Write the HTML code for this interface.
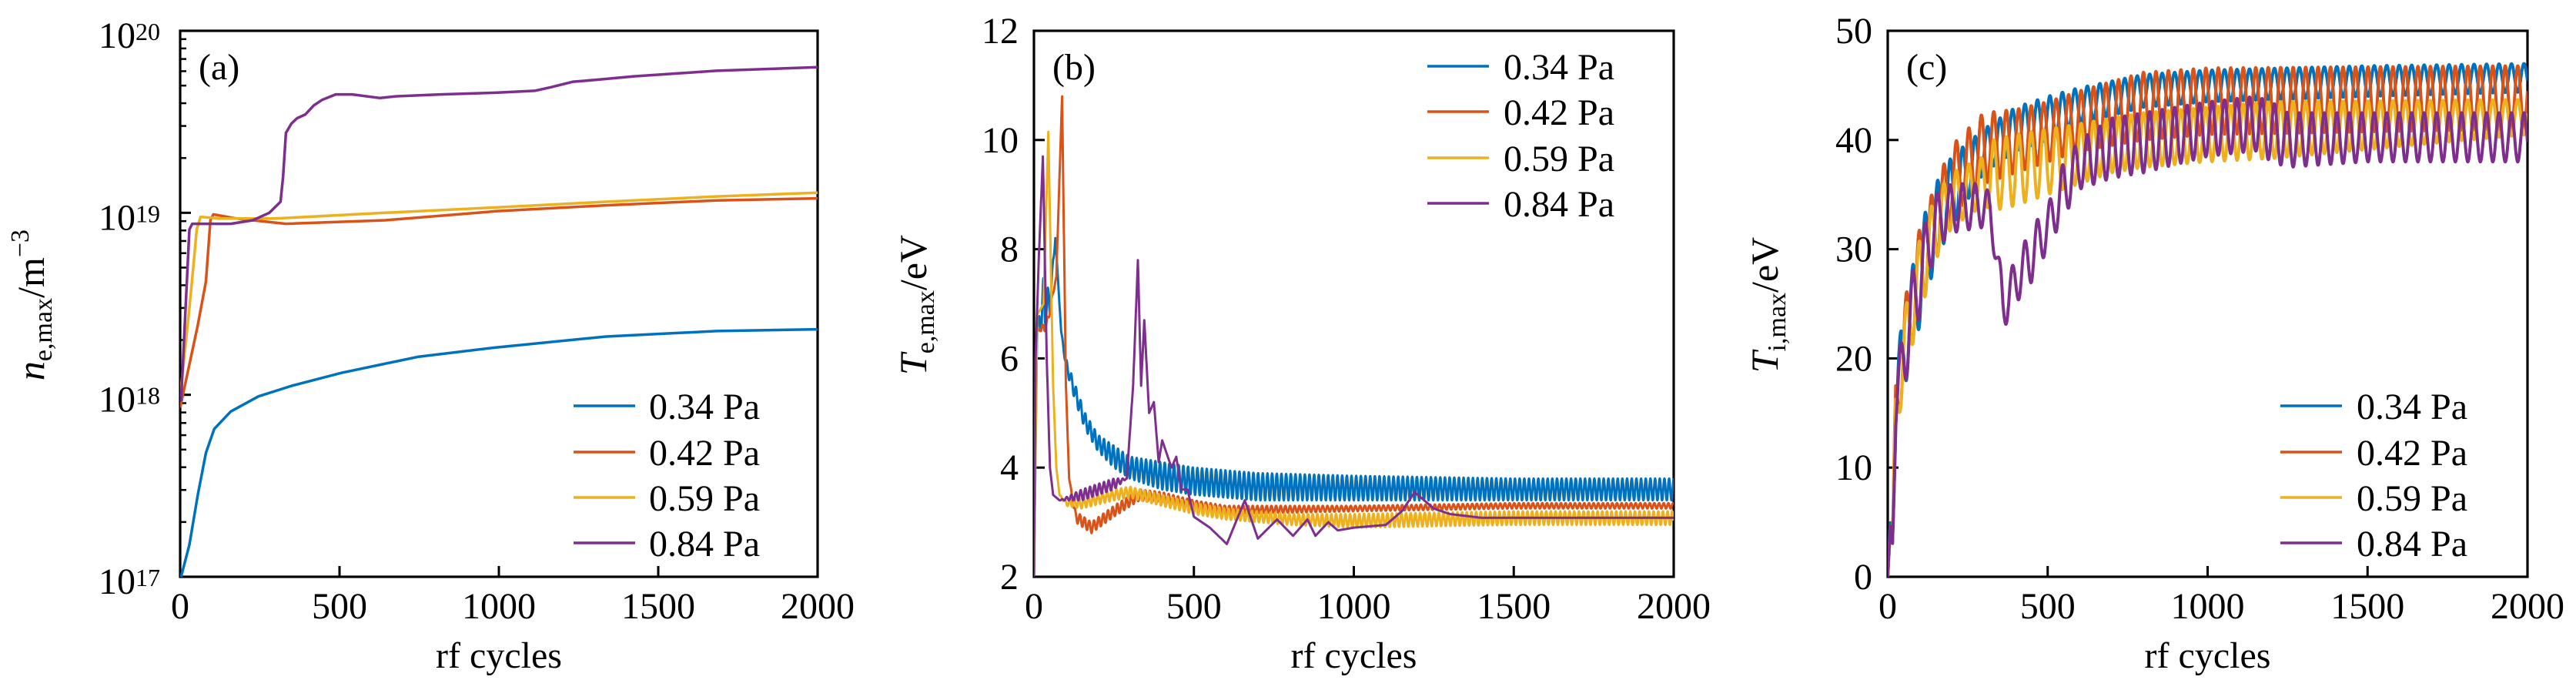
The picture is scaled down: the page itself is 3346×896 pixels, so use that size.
<!DOCTYPE html>
<html><head><meta charset="utf-8"><style>
html,body{margin:0;padding:0;background:#fff;}
svg{display:block;font-family:"Liberation Serif",serif;}
</style></head><body>
<svg id="fig" width="3346" height="896" viewBox="0 0 3346 896" xmlns="http://www.w3.org/2000/svg"></svg>
<script>
// ---------- Panel (a): n_e,max (units of 1e18 m^-3) ----------
const neBlueX  =[0,3,29,55,81,107,159,246,350,506,748,990,1337,1683,2000];
const neBlueY  =[0.10,0.10,0.15,0.28,0.48,0.65,0.81,0.98,1.12,1.32,1.62,1.82,2.09,2.24,2.29];
const neOrangeX=[0,55,81,95,104,177,332,644,990,1337,1683,2000];
const neOrangeY=[0.85,2.4,4.2,9.1,9.8,9.3,8.7,9.1,10.2,11.0,11.7,12.0];
const neYellowX=[0,29,42,52,64,125,298,644,990,1337,1683,2000];
const neYellowY=[0.98,3.0,5.2,8.1,9.5,9.3,9.3,10.0,10.7,11.5,12.3,12.9];
const nePurpleX=[0,3,29,38,73,159,228,280,315,323,332,349,367,393,419,445,488,540,627,679,817,990,1112,1164,1233,1302,1424,1683,2000];
const nePurpleY=[0.93,0.93,8.1,8.7,8.7,8.7,9.1,10.0,11.5,15.8,27.5,30.9,33.1,34.7,38.9,41.7,44.7,44.7,42.7,43.7,44.7,45.7,46.8,49.0,52.5,53.7,56.2,60.3,63.1];

// ---------- Panel (b): T_e,max envelopes (eV) ----------
const teBlueX  =[0,10,30,50,67,85,100,130,160,200,250,300,400,500,700,1000,1500,2000];
const teBlueLo =[2,6.5,6.5,6.8,8.2,6.5,5.8,5.2,4.7,4.3,4.0,3.8,3.6,3.5,3.4,3.4,3.4,3.4];
const teBlueHi =[2,6.5,7.5,7.2,8.25,6.5,6.0,5.5,5.0,4.6,4.4,4.2,4.1,4.0,3.9,3.85,3.8,3.8];
const teOrangeX =[0,8,40,70,88,100,110,130,180,250,330,400,500,600,1000,1500,2000];
const teOrangeLo=[2,6.5,6.5,7.5,10.8,5.5,3.8,3.0,2.8,3.1,3.4,3.35,3.25,3.15,3.2,3.25,3.25];
const teOrangeHi=[2,6.5,6.7,7.5,10.8,5.5,3.8,3.2,3.0,3.3,3.6,3.55,3.4,3.3,3.3,3.35,3.35];
const teYellowX =[0,10,30,45,60,70,80,100,150,250,300,400,500,600,800,1000,1500,2000];
const teYellowLo=[2,6.8,7.0,10.15,5.5,4.0,3.5,3.3,3.25,3.4,3.45,3.3,3.15,3.05,2.95,2.9,2.95,2.95];
const teYellowHi=[2,6.8,7.0,10.15,5.5,4.0,3.5,3.4,3.45,3.6,3.65,3.5,3.35,3.25,3.15,3.15,3.2,3.2];
const tePurpleX =[0,5,15,28,40,50,60,80,150,250,290,310,325,335,345,360,375,390,401,430,445,460,480,500,550,603,659,700,760,810,855,880,920,950,1000,1100,1150,1190,1250,1300,1400,2000];
const tePurpleLo=[2,6.0,7.8,9.7,6.0,4.0,3.5,3.4,3.4,3.6,3.8,5.5,7.8,5.5,6.7,5.0,5.2,4.1,4.5,4.0,4.2,3.6,3.6,3.1,2.9,2.6,3.4,2.7,3.05,2.75,3.05,2.75,3.0,2.85,2.9,2.95,3.2,3.55,3.25,3.15,3.08,3.08];
const tePurpleHi=[2,6.0,7.8,9.7,6.0,4.0,3.5,3.4,3.6,3.8,3.8,5.5,7.8,5.5,6.7,5.0,5.2,4.1,4.5,4.0,4.2,3.6,3.6,3.1,2.9,2.6,3.4,2.7,3.05,2.75,3.05,2.75,3.0,2.85,2.9,2.95,3.2,3.55,3.25,3.15,3.08,3.08];

// ---------- Panel (c): T_i,max envelopes (eV) ----------
const tiBlueX  =[0,8,15,25,50,75,100,150,200,300,400,500,600,800,1000,1500,2000];
const tiBlueLo =[0,4,3,13,17,20,23,29,32,37,39,40,41.5,43,43.5,44,44.4];
const tiBlueHi =[0,5.5,3.5,18.5,25,28,32,36,38.5,41,43,44,44.8,46,46.4,46.8,47];
const tiOrangeX =[0,8,15,25,50,75,100,150,200,300,400,500,600,800,1000,2000];
const tiOrangeLo=[0,4,3,13,17,21,24,29,33,36,37,38,39,40,40.5,41];
const tiOrangeHi=[0,5.5,3.5,18.5,25,28,32,36,39.5,42.5,42.8,43.5,44.5,46.2,46.6,46.8];
const tiYellowX =[0,8,15,25,50,75,100,150,200,300,330,400,500,600,700,800,1000,1200,2000];
const tiYellowLo=[0,4,3,13,17,21,24,29,32,34,33.5,34,35,36,37,37.5,38,38.3,40.5];
const tiYellowHi=[0,5,3.5,17,24,27,31,35,37,38.5,40,40.5,41,41.5,42,42.5,43,43.5,43.7];
const tiPurpleX =[0,8,15,25,50,100,150,200,300,320,340,360,400,450,500,550,600,700,800,1000,1150,1200,1250,1500,2000];
const tiPurpleLo=[0,4,3,13,17,24,30,31.5,32,32,28,22.5,25,27,30,33,35.5,36.5,37,38.5,39,38,37.5,38,38];
const tiPurpleHi=[0,5,3.5,17,24,31,35,36,36,35,31,27,29,32,34,38,40,42,42.5,43.5,44,43.5,42.5,42.5,42.5];

const xTicks=[0,500,1000,1500,2000];
const neDecades=[17,18,19,20];
const teTicks=[2,4,6,8,10,12];
const tiTicks=[0,10,20,30,40,50];
const legendLabels=["0.34 Pa","0.42 Pa","0.59 Pa","0.84 Pa"];
const colors=["#0072BD","#D95319","#EDB120","#7E2F8E"];
const PERIOD_B=14.6, PERIOD_C=39;

const NS="http://www.w3.org/2000/svg";
const svg=document.getElementById('fig');
function mk(tag,attrs,parent){const e=document.createElementNS(NS,tag);for(const k in attrs)e.setAttribute(k,attrs[k]);(parent||svg).appendChild(e);return e;}
function interp(xs,ys,t){if(t<=xs[0])return ys[0];for(let i=1;i<xs.length;i++){if(t<=xs[i]){const f=(t-xs[i-1])/(xs[i]-xs[i-1]);return ys[i-1]+f*(ys[i]-ys[i-1]);}}return ys[ys.length-1];}

const panels=[
 {key:'a',L:234,R:1062,T:40,B:749,ymin:17,ymax:20,log:true},
 {key:'b',L:1343,R:2174,T:40,B:749,ymin:2,ymax:12},
 {key:'c',L:2452,R:3283,T:40,B:749,ymin:0,ymax:50}
];
panels.forEach(p=>{
 p.x=v=>p.L+(v-0)/2000*(p.R-p.L);
 p.y=v=>{const u=p.log?Math.log10(v*1e18):v;return p.B-(u-p.ymin)/(p.ymax-p.ymin)*(p.B-p.T);};
 p.yRaw=u=>p.B-(u-p.ymin)/(p.ymax-p.ymin)*(p.B-p.T);
 const cp=mk('clipPath',{id:'clip-'+p.key});
 mk('rect',{x:p.L,y:p.T,width:p.R-p.L,height:p.B-p.T},cp);
});

function drawLine(p,pts,color,name,w){
 const d=pts.map((q,i)=>(i?'L':'M')+q[0].toFixed(1)+' '+q[1].toFixed(1)).join('');
 const path=mk('path',{d:d,fill:'none',stroke:color,'stroke-width':w,'stroke-linejoin':'round','clip-path':'url(#clip-'+p.key+')'});
 
 
}
function simple(p,xs,ys){return xs.map((x,i)=>[p.x(x),p.y(ys[i])]);}
function osc(p,xs,lo,hi,period,phase){const pts=[];for(let t=0;t<=2000;t+=0.5){const l=interp(xs,lo,t),h=interp(xs,hi,t);const v=(l+h)/2+(h-l)/2*Math.cos(2*Math.PI*t/period+phase);pts.push([p.x(t),p.y(v)]);}return pts;}

function axes(p,yLabelHtml,yLabelX){
 mk('rect',{x:p.L,y:p.T,width:p.R-p.L,height:p.B-p.T,fill:'none',stroke:'#000','stroke-width':3.2,});
 xTicks.forEach(v=>{
  const X=p.x(v);
  mk('line',{x1:X,x2:X,y1:p.B,y2:p.B-14,stroke:'#000','stroke-width':3});
  const t=mk('text',{x:X,y:803,'font-size':48,'text-anchor':'middle'});t.textContent=v;
  
 });
 const xl=mk('text',{x:(p.L+p.R)/2,y:867,'font-size':48,'text-anchor':'middle'});xl.textContent='rf cycles';
 
 const yl=mk('text',{x:yLabelX,y:396,'font-size':50,'text-anchor':'middle',transform:'rotate(-90 '+yLabelX+' 396)'});
 yl.innerHTML=yLabelHtml;
 
 const pl=mk('text',{x:p.L+24,y:103,'font-size':48});pl.textContent='('+p.key+')';
 
}
function linTicks(p,ticks){
 ticks.forEach(v=>{const Y=p.yRaw(v);
  mk('line',{x1:p.L,x2:p.L+14,y1:Y,y2:Y,stroke:'#000','stroke-width':3});
  const t=mk('text',{x:p.L-20,y:Y+16,'font-size':48,'text-anchor':'end'});t.textContent=v;
  
 });
}
function legend(p,lineX,textX,rows){
 const g=mk('g',{});
 
 legendLabels.forEach((lab,i)=>{
  const Y=rows[i];
  mk('line',{x1:lineX,x2:lineX+80,y1:Y,y2:Y,stroke:colors[i],'stroke-width':3.5},g);
  const t=mk('text',{x:textX,y:Y+17,'font-size':48},g);t.textContent=lab;
  
 });
}

const pa=panels[0];
axes(pa,'<tspan font-style="italic">n</tspan><tspan font-size="34" dy="10">e,max</tspan><tspan dy="-10">/m</tspan><tspan font-size="34" dy="-20">−3</tspan>',57);
neDecades.forEach(d=>{
 const Y=pa.yRaw(d);
 mk('line',{x1:pa.L,x2:pa.L+14,y1:Y,y2:Y,stroke:'#000','stroke-width':3});
 const t=mk('text',{x:176,y:Y+22,'font-size':48,'text-anchor':'end'});t.textContent='10';
 
 const s=mk('text',{x:176,y:Y+12,'font-size':32});s.textContent=String(d);
 if(d<20){for(let m=2;m<=9;m++){const Ym=pa.yRaw(d+Math.log10(m));mk('line',{x1:pa.L,x2:pa.L+8,y1:Ym,y2:Ym,stroke:'#000','stroke-width':2.5});}}
});
drawLine(pa,simple(pa,neBlueX,neBlueY),colors[0],'ne-line-0.34pa',3.5);
drawLine(pa,simple(pa,neOrangeX,neOrangeY),colors[1],'ne-line-0.42pa',3.5);
drawLine(pa,simple(pa,neYellowX,neYellowY),colors[2],'ne-line-0.59pa',3.5);
drawLine(pa,simple(pa,nePurpleX,nePurpleY),colors[3],'ne-line-0.84pa',3.5);
legend(pa,745,843,[527,587,646,705]);

const pb=panels[1];
axes(pb,'<tspan font-style="italic">T</tspan><tspan font-size="34" dy="10">e,max</tspan><tspan dy="-10">/eV</tspan>',1203);
linTicks(pb,teTicks);
drawLine(pb,osc(pb,teBlueX,teBlueLo,teBlueHi,PERIOD_B,0),colors[0],'te-line-0.34pa',3);
drawLine(pb,osc(pb,teOrangeX,teOrangeLo,teOrangeHi,PERIOD_B,1),colors[1],'te-line-0.42pa',3);
drawLine(pb,osc(pb,teYellowX,teYellowLo,teYellowHi,PERIOD_B,2),colors[2],'te-line-0.59pa',3);
drawLine(pb,osc(pb,tePurpleX,tePurpleLo,tePurpleHi,PERIOD_B,0),colors[3],'te-line-0.84pa',3);
legend(pb,1854,1953,[86,145,205,264]);

const pc=panels[2];
axes(pc,'<tspan font-style="italic">T</tspan><tspan font-size="34" dy="10">i,max</tspan><tspan dy="-10">/eV</tspan>',2309);
linTicks(pc,tiTicks);
drawLine(pc,osc(pc,tiBlueX,tiBlueLo,tiBlueHi,PERIOD_C,0),colors[0],'ti-line-0.34pa',4);
drawLine(pc,osc(pc,tiOrangeX,tiOrangeLo,tiOrangeHi,PERIOD_C,Math.PI),colors[1],'ti-line-0.42pa',4);
drawLine(pc,osc(pc,tiYellowX,tiYellowLo,tiYellowHi,PERIOD_C,Math.PI),colors[2],'ti-line-0.59pa',4);
drawLine(pc,osc(pc,tiPurpleX,tiPurpleLo,tiPurpleHi,PERIOD_C,0),colors[3],'ti-line-0.84pa',4);
legend(pc,2962,3061,[527,587,646,705]);
</script>
</body></html>
